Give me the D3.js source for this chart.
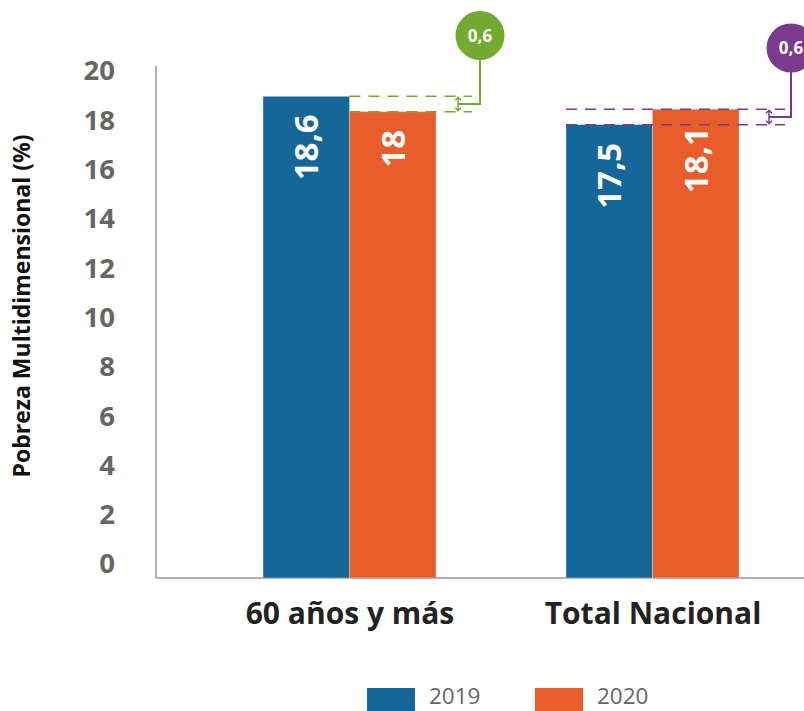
<!DOCTYPE html>
<html><head><meta charset="utf-8">
<script src="https://cdn.jsdelivr.net/npm/d3@7"></script>
<style>body{margin:0;background:#fff}svg{display:block}</style>
</head><body>
<svg id="c" width="804" height="711"></svg>
<script>
const categories = ["60 años y más", "Total Nacional"];
const series = ["2019", "2020"];
const values2019 = [18.6, 17.5];
const values2020 = [18.0, 18.1];
const valueLabels2019 = ["18,6", "17,5"];
const valueLabels2020 = ["18", "18,1"];
const diffLabels = ["0,6", "0,6"];
const diffColors = ["#72ab2f", "#7c3a8e"];
const yTicks = [0, 2, 4, 6, 8, 10, 12, 14, 16, 18, 20];
const colors = {"2019": "#156799", "2020": "#e95d2b"};
const font = "'Open Sans', Lato, sans-serif";

const svg = d3.select("#c");
const y = d3.scaleLinear().domain([0, 20]).range([578, 60]);
const yLab = d3.scaleLinear().domain([0, 20]).range([563, 70]);
const xc = d3.scalePoint().domain(categories).range([349.5, 652.5]);
const bw = 86.5;

// axes lines
svg.append("line").attr("x1",156).attr("x2",156).attr("y1",66).attr("y2",578).attr("stroke","#999").attr("stroke-width",1.5);
svg.append("line").attr("x1",156).attr("x2",804).attr("y1",578).attr("y2",578).attr("stroke","#999").attr("stroke-width",1.5);

// y tick labels
const ya = svg.append("g").attr("transform","translate(115,0)")
  .call(d3.axisLeft(yLab).tickValues(yTicks).tickSize(0).tickPadding(0).tickFormat(d3.format("d")));
ya.select(".domain").remove();
ya.selectAll("text").attr("font-family",font).attr("font-weight","bold").attr("font-size",27.5).attr("fill","#666").attr("dy","0.36em");

// y title
svg.append("text").attr("transform","translate(30,306) rotate(-90)").attr("text-anchor","middle")
  .attr("font-family",font).attr("font-weight","bold").attr("font-size",23).attr("fill","#111")
  .text("Pobreza Multidimensional (%)");

// x labels
const xa = svg.append("g").attr("transform","translate(0,578)")
  .call(d3.axisBottom(xc).tickSize(0).tickPadding(0));
xa.select(".domain").remove();
xa.selectAll("text").attr("font-family",font).attr("font-weight","bold").attr("font-size",30).attr("fill","#222").attr("dy","46");

// bars
const rows = categories.map((c,i)=>({c, v19: values2019[i], v20: values2020[i], l19: valueLabels2019[i], l20: valueLabels2020[i]}));
rows.forEach(r=>{
  const cx = xc(r.c);
  [[r.v19, r.l19, "2019", cx - bw],[r.v20, r.l20, "2020", cx]].forEach(([v,l,s,x0])=>{
    svg.append("rect").attr("x",x0).attr("y",y(v)).attr("width",bw).attr("height",y(0)-y(v))
      .attr("fill",colors[s]).attr("stroke","#c9d6e0").attr("stroke-width",0.5);
    svg.append("text").attr("transform",`translate(${x0+bw/2+12},${y(v)+18}) rotate(-90)`)
      .attr("text-anchor","end").attr("font-family",font).attr("font-weight","bold")
      .attr("font-size",33).attr("fill","#fff").text(l);
  });
});

// difference annotations
const ann = [
  {i:0, xs: xc(categories[0]), xe: 472, ax: 458, cx: 480, cy: 35.5},
  {i:1, xs: xc(categories[1]) - bw, xe: 785, ax: 769, cx: 791, cy: 48}
];
ann.forEach(a=>{
  const col = diffColors[a.i];
  const ya1 = y(Math.max(values2019[a.i], values2020[a.i]));
  const ya2 = y(Math.min(values2019[a.i], values2020[a.i]));
  const g = svg.append("g");
  [ya1, ya2].forEach(yy=>{
    g.append("line").attr("x1",a.xs).attr("x2",a.xe).attr("y1",yy).attr("y2",yy)
      .attr("stroke",col).attr("stroke-width",1.6).attr("stroke-dasharray","11,8");
  });
  // double arrow
  g.append("line").attr("x1",a.ax).attr("x2",a.ax).attr("y1",ya1+1).attr("y2",ya2-1).attr("stroke",col).attr("stroke-width",1.5);
  g.append("path").attr("d",`M${a.ax-3},${ya1+4} L${a.ax},${ya1+1} L${a.ax+3},${ya1+4} M${a.ax-3},${ya2-4} L${a.ax},${ya2-1} L${a.ax+3},${ya2-4}`)
    .attr("fill","none").attr("stroke",col).attr("stroke-width",1.5);
  const ym = (ya1+ya2)/2;
  g.append("path").attr("d",`M${a.ax},${ym} H${a.cx} V${a.cy+24}`).attr("fill","none").attr("stroke",col).attr("stroke-width",2);
  g.append("circle").attr("cx",a.cx).attr("cy",a.cy).attr("r",24.5).attr("fill",col);
  g.append("text").attr("x",a.cx).attr("y",a.cy).attr("dy","0.36em").attr("text-anchor","middle")
    .attr("font-family",font).attr("font-weight","bold").attr("font-size",17).attr("fill","#fff").text(diffLabels[a.i]);
});

// legend
const lg = svg.append("g");
const legX = [367, 535];
series.forEach((s,i)=>{
  lg.append("rect").attr("x",legX[i]).attr("y",688).attr("width",48).attr("height",23).attr("fill",colors[s]);
  lg.append("text").attr("x",legX[i]+62).attr("y",704).attr("font-family",font)
    .attr("font-size",22.5).attr("fill","#666").text(s);
});
</script>
</body></html>
